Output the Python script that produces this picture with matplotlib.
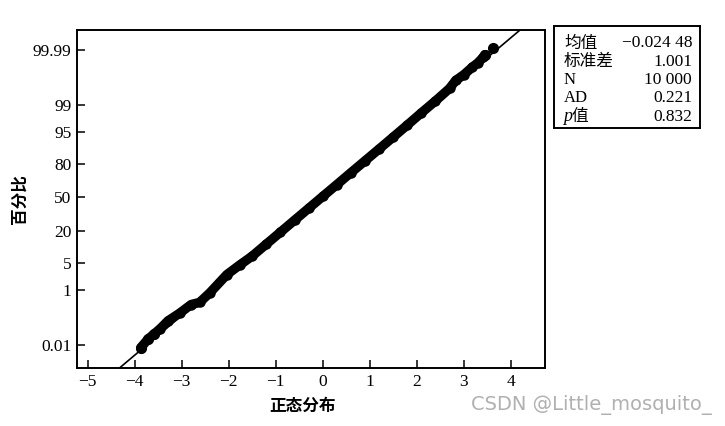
##Normal probability plot (正态概率图) with summary box

import numpy as np
import matplotlib.pyplot as plt
from statistics import NormalDist

plt.rcParams['font.family'] = ['Liberation Serif', 'Noto Sans CJK SC']
plt.rcParams['axes.unicode_minus'] = True

##Data
data_x = [-3.87, -3.71, -3.60, -3.46, -3.29, -3.04, -2.80, -2.62, -2.40, -2.04,
          -1.76, -1.50, -1.20, -0.90, -0.60, -0.30, 0.00, 0.30, 0.60, 0.90,
          1.20, 1.50, 1.80, 2.10, 2.40, 2.70, 2.83, 3.00, 3.18, 3.30, 3.42, 3.45]
data_pct = [0.0078, 0.0185, 0.028, 0.047, 0.095, 0.18, 0.35, 0.41, 0.82, 2.6,
            4.5, 7.0, 12.0, 19.1, 28.3, 39.2, 51.0, 62.7, 73.4, 82.2,
            88.9, 93.6, 96.6, 98.35, 99.25, 99.70, 99.84, 99.90, 99.948, 99.965, 99.980, 99.984]
tail_x = [-3.87, -3.71, -3.60, 3.45, 3.63]
tail_pct = [0.0078, 0.0185, 0.028, 99.984, 99.992]

mean = -0.02448
std = 1.001

y_ticks_pct = [0.01, 1, 5, 20, 50, 80, 95, 99, 99.99]
y_tick_labels = ['0.01', '1', '5', '20', '50', '80', '95', '99', '99.99']
x_ticks = [-5, -4, -3, -2, -1, 0, 1, 2, 3, 4]

nd = NormalDist()
def to_z(pct):
    return [nd.inv_cdf(p / 100.0) for p in pct]

fig = plt.figure(figsize=(7.25, 4.26), dpi=100)
ax = fig.add_axes([77/725, 58/426, 468/725, 338/426])

##fitted line
zl = np.array([-4.4, 4.4])
ax.plot(mean + std * zl, zl, color='black', lw=1.2, zorder=2)

##points (dense band of dots)
ax.plot(data_x, to_z(data_pct), '-o', color='black', lw=6.8, ms=6.5,
        solid_capstyle='round', solid_joinstyle='round', zorder=3)
ax.plot(tail_x, to_z(tail_pct), 'o', color='black', ms=7, zorder=3)

ax.set_xlim(-5.228, 4.73)
ax.set_ylim(-4.295, 4.219)
ax.set_xticks(x_ticks)
ax.set_xticklabels([str(t).replace('-', '\u2212') for t in x_ticks])
ax.set_yticks(to_z(y_ticks_pct))
ax.set_yticklabels(y_tick_labels)
ax.tick_params(direction='in', length=6, width=1.1, labelsize=12.5, pad=4)
for s in ax.spines.values():
    s.set_linewidth(1.4)

fig.text(20/725, 1 - 199/426, '百分比', rotation=90, ha='center', va='center',
         fontsize=12, fontweight='bold', family=['Noto Sans CJK SC'])
fig.text(302/725, 1 - 406/426, '正态分布', ha='center', va='center',
         fontsize=12, fontweight='bold', family=['Noto Sans CJK SC'])

##summary box
bx = fig.add_axes([554/725, 1 - 128/426, 146/725, 102/426])
bx.set_xticks([])
bx.set_yticks([])
bx.set_xlim(554, 700)
bx.set_ylim(128, 26)
for s in bx.spines.values():
    s.set_linewidth(1.4)

labels = ['均值', '标准差', 'N', 'AD', '值']
values = ['\u22120.024 48', '1.001', '10 000', '0.221', '0.832']
rows_y = [43, 61.5, 80, 98.3, 116.7]
for lab, val, yy in zip(labels, values, rows_y):
    fam = ['Noto Sans CJK SC'] if lab in ('均值', '标准差') else ['Liberation Serif']
    xx = 564
    if lab == '值':
        bx.text(563, yy, 'p', ha='left', va='center', fontsize=13, style='italic',
                family=['Liberation Serif'])
        xx = 571.5
        fam = ['Noto Sans CJK SC']
    bx.text(xx, yy, lab, ha='left', va='center', fontsize=12, family=fam)
    bx.text(692, yy, val, ha='right', va='center', fontsize=12.5, family=['Liberation Serif'])

##watermark
fig.text(712/725, 1 - 405/426, 'CSDN @Little_mosquito_', ha='right', va='center',
         fontsize=14, color='#b0b0b0', family=['DejaVu Sans'])

fig.savefig('out.png', dpi=100)
